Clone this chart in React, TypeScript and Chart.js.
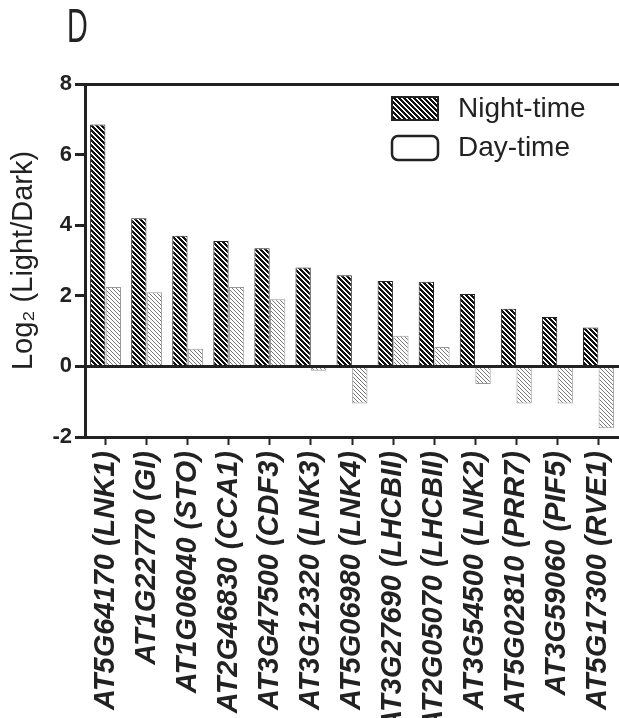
import React, { useEffect, useRef } from 'react';
import { Chart, registerables } from 'chart.js';

Chart.register(...registerables);

const categories = [
  'AT5G64170 (LNK1)',
  'AT1G22770 (GI)',
  'AT1G06040 (STO)',
  'AT2G46830 (CCA1)',
  'AT3G47500 (CDF3)',
  'AT3G12320 (LNK3)',
  'AT5G06980 (LNK4)',
  'AT3G27690 (LHCBII)',
  'AT2G05070 (LHCBII)',
  'AT3G54500 (LNK2)',
  'AT5G02810 (PRR7)',
  'AT3G59060 (PIF5)',
  'AT5G17300 (RVE1)',
];
const nightValues = [6.85, 4.2, 3.7, 3.55, 3.35, 2.8, 2.58, 2.42, 2.4, 2.05, 1.63, 1.4, 1.1];
const dayValues = [2.25, 2.1, 0.5, 2.25, 1.9, -0.12, -1.05, 0.87, 0.55, -0.5, -1.05, -1.05, -1.75];
const seriesNames = ['Night-time', 'Day-time'];
const yTickValues = [-2, 0, 2, 4, 6, 8];
const panelLabel = 'D';
const yTitle = 'Log₂ (Light/Dark)';

const FONT = '"Liberation Sans", Arial, sans-serif';

function makePattern(lineColor: string, bg: string, size: number, thick: number): CanvasPattern | string {
  const c = document.createElement('canvas');
  c.width = size;
  c.height = size;
  const g = c.getContext('2d');
  if (!g) return lineColor;
  g.fillStyle = bg;
  g.fillRect(0, 0, size, size);
  g.fillStyle = lineColor;
  for (let i = 0; i < size; i++) {
    for (let t = 0; t < thick; t++) g.fillRect((i + t) % size, i, 1, 1);
  }
  return g.createPattern(c, 'repeat') || lineColor;
}

export default function App() {
  const ref = useRef<HTMLCanvasElement | null>(null);

  useEffect(() => {
    if (!ref.current) return;
    const nightPattern = makePattern('#111111', '#ffffff', 5, 3);
    const dayPattern = makePattern('#777777', '#ffffff', 4, 1);

    const overlay = {
      id: 'overlay',
      afterDraw(chart: any) {
        const ctx = chart.ctx as CanvasRenderingContext2D;
        const ca = chart.chartArea;
        ctx.save();
        // panel label
        ctx.save();
        ctx.translate(67, 42);
        ctx.scale(0.72, 1.2);
        ctx.font = `40px ${FONT}`;
        ctx.fillStyle = '#222';
        ctx.textBaseline = 'alphabetic';
        ctx.fillText(panelLabel, 0, 0);
        ctx.restore();

        // legend
        const bx = ca.left + 307;
        const by = ca.top + 13;
        const bw = 46;
        const bh = 23;
        ctx.fillStyle = nightPattern as any;
        ctx.fillRect(bx, by, bw, bh);
        ctx.strokeStyle = '#222';
        ctx.lineWidth = 2;
        ctx.strokeRect(bx, by, bw, bh);

        const by2 = by + 39;
        ctx.fillStyle = '#fff';
        ctx.beginPath();
        if ((ctx as any).roundRect) (ctx as any).roundRect(bx, by2, bw, bh + 1, 6);
        else ctx.rect(bx, by2, bw, bh + 1);
        ctx.fill();
        ctx.lineWidth = 2.5;
        ctx.stroke();

        ctx.fillStyle = '#222';
        ctx.font = `28px ${FONT}`;
        ctx.textBaseline = 'middle';
        ctx.textAlign = 'left';
        ctx.fillText(seriesNames[0], bx + bw + 20, by + bh / 2 + 1);
        ctx.fillText(seriesNames[1], bx + bw + 20, by2 + bh / 2 + 1);
        ctx.restore();
      },
    };

    const chart = new Chart(ref.current, {
      type: 'bar',
      data: {
        labels: categories,
        datasets: [
          {
            label: seriesNames[0],
            data: nightValues,
            backgroundColor: nightPattern as any,
            borderColor: '#222',
            borderWidth: 1,
            categoryPercentage: 0.76,
            barPercentage: 0.98,
          },
          {
            label: seriesNames[1],
            data: dayValues,
            backgroundColor: dayPattern as any,
            borderColor: '#999',
            borderWidth: 1,
            categoryPercentage: 0.76,
            barPercentage: 0.98,
          },
        ],
      },
      options: {
        animation: false,
        responsive: true,
        maintainAspectRatio: false,
        layout: { padding: { top: 84, left: 0, right: 0, bottom: 0 } },
        plugins: {
          legend: { display: false },
          tooltip: { enabled: false },
        },
        scales: {
          x: {
            offset: true,
            grid: {
              offset: false,
              drawOnChartArea: false,
              drawTicks: true,
              tickLength: 8,
              tickWidth: 2,
              tickColor: '#222',
            },
            border: { display: true, color: '#222', width: 3 },
            ticks: {
              autoSkip: false,
              minRotation: 90,
              maxRotation: 90,
              padding: 6,
              color: '#222',
              font: { family: FONT, size: 29, weight: 'bold', style: 'italic' },
            },
            afterFit(scale: any) {
              scale.height = 718 - 437;
              scale.paddingLeft = 0;
              scale.paddingRight = 0;
            },
          },
          y: {
            min: -2,
            max: 8,
            afterBuildTicks(scale: any) {
              scale.ticks = yTickValues.map((v) => ({ value: v }));
            },
            grid: {
              color: (c: any) => (c.tick && [8, 0, -2].includes(c.tick.value) ? '#222' : 'rgba(0,0,0,0)'),
              lineWidth: 3,
              tickColor: '#222',
              tickLength: 10,
              tickWidth: 3,
            },
            border: { display: true, color: '#222', width: 3 },
            ticks: {
              padding: 3,
              color: '#222',
              font: { family: FONT, size: 22, weight: 'bold' },
            },
            title: {
              display: true,
              text: yTitle,
              color: '#222',
              padding: { top: 7, bottom: 0 },
              font: { family: FONT, size: 29 },
            },
            afterFit(scale: any) {
              scale.width = 85;
            },
          },
        },
      },
      plugins: [overlay],
    });
    return () => chart.destroy();
  }, []);

  return (
    <div style={{ position: 'absolute', left: 0, top: 0, width: 619, height: 718, background: '#fff' }}>
      <canvas ref={ref} />
    </div>
  );
}
